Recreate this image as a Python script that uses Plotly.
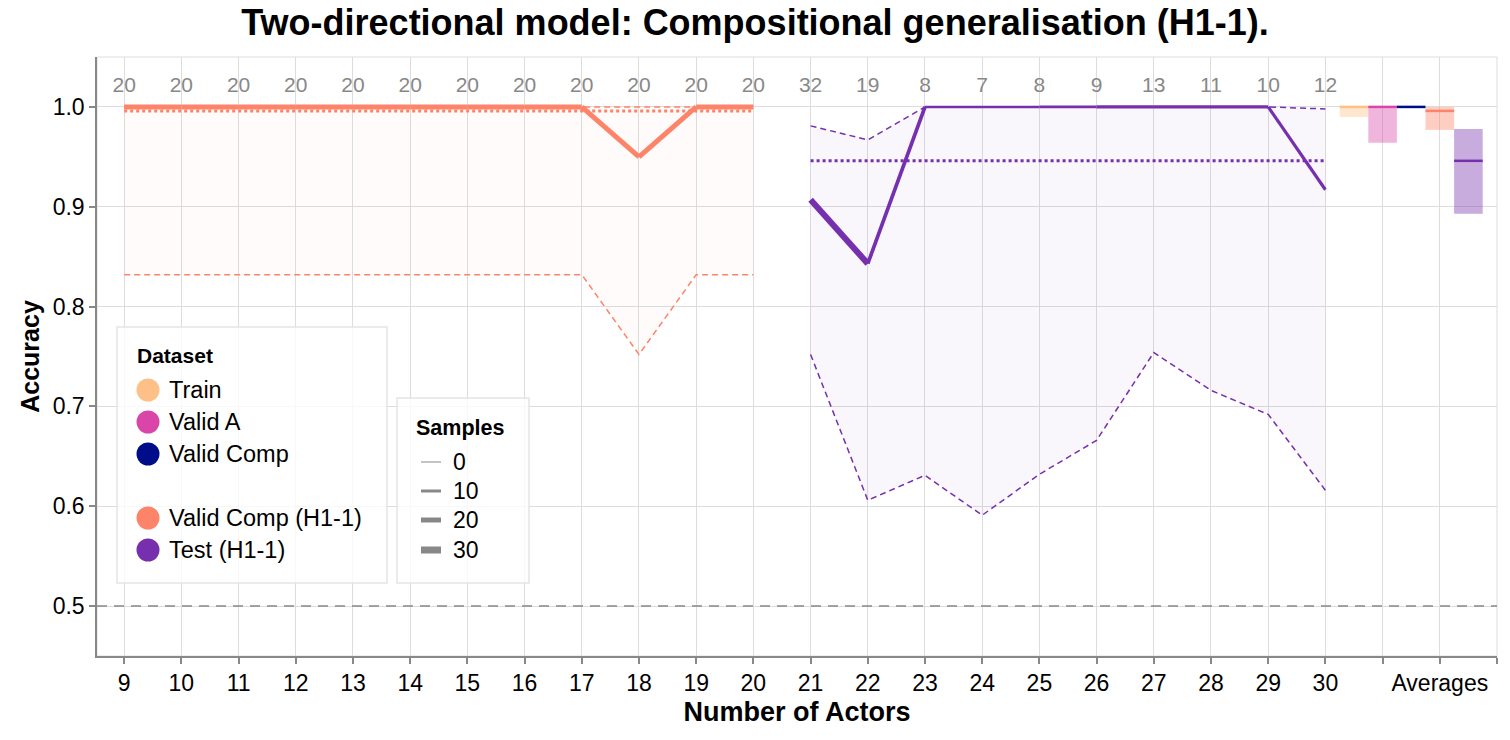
import plotly.graph_objects as go

# ---------------- data ----------------
actors = list(range(9, 31))
extra_ticks = ["", "Averages", ""]

vc_actors = [9, 10, 11, 12, 13, 14, 15, 16, 17, 18, 19, 20]
vc_acc = [1.0, 1.0, 1.0, 1.0, 1.0, 1.0, 1.0, 1.0, 1.0, 0.95, 1.0, 1.0]
vc_upper = [1.0, 1.0, 1.0, 1.0, 1.0, 1.0, 1.0, 1.0, 1.0, 1.0, 1.0, 1.0]
vc_lower = [0.832, 0.832, 0.832, 0.832, 0.832, 0.832, 0.832, 0.832, 0.832, 0.752, 0.832, 0.832]
vc_samples = [20, 20, 20, 20, 20, 20, 20, 20, 20, 20, 20, 20]
vc_mean = 0.996

test_actors = [21, 22, 23, 24, 25, 26, 27, 28, 29, 30]
test_acc = [0.907, 0.843, 1.0, 1.0, 1.0, 1.0, 1.0, 1.0, 1.0, 0.917]
test_upper = [0.981, 0.967, 1.0, 1.0, 1.0, 1.0, 1.0, 1.0, 1.0, 0.998]
test_lower = [0.752, 0.606, 0.631, 0.591, 0.632, 0.666, 0.754, 0.716, 0.692, 0.616]
test_samples = [32, 19, 8, 7, 8, 9, 13, 11, 10, 12]
test_mean = 0.946

avg_datasets = ["Train", "Valid A", "Valid Comp", "Valid Comp (H1-1)", "Test (H1-1)"]
avg_mean = [1.0, 1.0, 1.0, 0.996, 0.946]
avg_low = [0.990, 0.964, 1.0, 0.977, 0.893]
avg_high = [1.0, 1.0, 1.0, 1.0, 0.978]

legend_samples = [0, 10, 20, 30]

colors = {
    "Train": "#fdc087",
    "Valid A": "#d946a8",
    "Valid Comp": "#000d8a",
    "Valid Comp (H1-1)": "#fd8468",
    "Test (H1-1)": "#762fad",
}

# ---------------- helpers ----------------
FONT = "Liberation Sans, Arial, Helvetica, sans-serif"
L, R, T, B = 97, 13, 57, 84
W, H = 1510, 740
PW, PH = W - L - R, H - T - B


def pxx(x):
    return (x - L) / PW


def pxy(y):
    return 1 - (y - T) / PH


def idx(a):
    return a - actors[0]


def width_for(s):
    return 1 + 0.2 * s


def rgba(hexc, a):
    h = hexc.lstrip("#")
    r, g, b = int(h[0:2], 16), int(h[2:4], 16), int(h[4:6], 16)
    return f"rgba({r},{g},{b},{a})"


fig = go.Figure()


def add_series(xs, acc, up, lo, samples, mean, color, name, band_alpha):
    xi = [idx(a) for a in xs]
    # CI band
    fig.add_trace(go.Scatter(x=xi, y=up, mode="lines", line=dict(color=color, width=1.5, dash="6px,4px"),
                             showlegend=False, hoverinfo="skip"))
    fig.add_trace(go.Scatter(x=xi, y=lo, mode="lines", line=dict(color=color, width=1.5, dash="6px,4px"),
                             fill="tonexty", fillcolor=rgba(color, band_alpha), showlegend=False, hoverinfo="skip"))
    # mean (dotted)
    fig.add_trace(go.Scatter(x=[xi[0], xi[-1]], y=[mean, mean], mode="lines",
                             line=dict(color=color, width=3, dash="dot"), showlegend=False, hoverinfo="skip"))
    # trail: segments with widths from samples
    for i in range(len(xi) - 1):
        fig.add_trace(go.Scatter(x=[xi[i], xi[i + 1]], y=[acc[i], acc[i + 1]], mode="lines",
                                 line=dict(color=color, width=width_for((samples[i] + samples[i + 1]) / 2)),
                                 showlegend=False, name=name, hoverinfo="skip"))
    # sample counts
    fig.add_trace(go.Scatter(x=xi, y=[1.02] * len(xi), mode="text", text=[str(s) for s in samples],
                             textfont=dict(family=FONT, size=21, color="#888888"),
                             showlegend=False, hoverinfo="skip"))


add_series(vc_actors, vc_acc, vc_upper, vc_lower, vc_samples, vc_mean, colors["Valid Comp (H1-1)"],
           "Valid Comp (H1-1)", 0.035)
add_series(test_actors, test_acc, test_upper, test_lower, test_samples, test_mean, colors["Test (H1-1)"],
           "Test (H1-1)", 0.04)

# averages
n_act = len(actors)
for i, d in enumerate(avg_datasets):
    xc = (n_act - 0.5) + 0.5 * i
    c = colors[d]
    fig.add_trace(go.Bar(x=[xc], y=[avg_high[i] - avg_low[i]], base=[avg_low[i]], width=0.5,
                         marker=dict(color=rgba(c, 0.4), line=dict(width=0)), showlegend=False, hoverinfo="skip"))
    fig.add_trace(go.Scatter(x=[xc - 0.25, xc + 0.25], y=[avg_mean[i], avg_mean[i]], mode="lines",
                             line=dict(color=c, width=2.5), showlegend=False, hoverinfo="skip"))

# ---------------- shapes / annotations ----------------
shapes = []
annotations = []

shapes.append(dict(type="rect", xref="paper", yref="paper", x0=0, x1=1, y0=0, y1=1,
                   line=dict(color="#dddddd", width=1), layer="below"))
shapes.append(dict(type="line", xref="paper", yref="y", x0=0, x1=1, y0=0.5, y1=0.5,
                   line=dict(color="#888888", width=1.5, dash="10px,7px"), layer="above"))

# Dataset legend box
shapes.append(dict(type="rect", xref="paper", yref="paper", x0=pxx(117), x1=pxx(387), y0=pxy(583), y1=pxy(327),
                   fillcolor="rgba(255,255,255,0.8)", line=dict(color="rgba(225,225,225,0.9)", width=1.5),
                   layer="above"))
annotations.append(dict(xref="paper", yref="paper", x=pxx(135), y=pxy(355), text="<b>Dataset</b>",
                        showarrow=False, xanchor="left", yanchor="middle",
                        font=dict(family=FONT, size=21, color="black")))
leg_y = [390, 422, 454, 518, 550]
for d, yy in zip(avg_datasets, leg_y):
    shapes.append(dict(type="circle", xref="paper", yref="paper", xsizemode="pixel", ysizemode="pixel",
                       xanchor=pxx(148), yanchor=pxy(yy), x0=-11.5, x1=11.5, y0=-11.5, y1=11.5,
                       fillcolor=colors[d], line=dict(width=0), layer="above"))
    annotations.append(dict(xref="paper", yref="paper", x=pxx(167), y=pxy(yy), text=d, showarrow=False,
                            xanchor="left", yanchor="middle", font=dict(family=FONT, size=23.5, color="black")))

# Samples legend box
shapes.append(dict(type="rect", xref="paper", yref="paper", x0=pxx(397), x1=pxx(529), y0=pxy(583), y1=pxy(398),
                   fillcolor="rgba(255,255,255,0.8)", line=dict(color="rgba(225,225,225,0.9)", width=1.5),
                   layer="above"))
annotations.append(dict(xref="paper", yref="paper", x=pxx(414), y=pxy(428), text="<b>Samples</b>",
                        showarrow=False, xanchor="left", yanchor="middle",
                        font=dict(family=FONT, size=21.5, color="black")))
samp_y = [462, 491, 520, 550]
for s, yy in zip(legend_samples, samp_y):
    shapes.append(dict(type="line", xref="paper", yref="paper", x0=pxx(421), x1=pxx(441), y0=pxy(yy), y1=pxy(yy),
                       line=dict(color="#888888", width=width_for(s)), layer="above"))
    annotations.append(dict(xref="paper", yref="paper", x=pxx(451), y=pxy(yy), text=str(s), showarrow=False,
                            xanchor="left", yanchor="middle", font=dict(family=FONT, size=23, color="black")))

tickvals = list(range(n_act + len(extra_ticks)))
ticktext = [str(a) for a in actors] + extra_ticks

fig.update_layout(
    width=W, height=H,
    margin=dict(l=L, r=R, t=T, b=B),
    paper_bgcolor="white", plot_bgcolor="white",
    title=dict(text="<b>Two-directional model: Compositional generalisation (H1-1).</b>",
               x=0.5, xanchor="center", xref="container", y=1 - 22 / H, yanchor="middle",
               font=dict(family=FONT, size=36, color="black")),
    font=dict(family=FONT, size=23, color="black"),
    shapes=shapes, annotations=annotations,
    showlegend=False, barmode="overlay",
    xaxis=dict(range=[-0.475, n_act + 2], tickmode="array", tickvals=tickvals, ticktext=ticktext,
               showgrid=True, gridcolor="#dddddd", gridwidth=1, zeroline=False,
               showline=True, linecolor="#888888", linewidth=1.5,
               ticks="outside", ticklen=6, tickcolor="#888888", tickwidth=1.5,
               tickfont=dict(family=FONT, size=23, color="black"),
               title=dict(text="<b>Number of Actors</b>", font=dict(family=FONT, size=27, color="black"), standoff=7)),
    yaxis=dict(range=[0.45, 1.05], tickmode="array", tickvals=[0.5, 0.6, 0.7, 0.8, 0.9, 1.0],
               ticktext=["0.5", "0.6", "0.7", "0.8", "0.9", "1.0"],
               showgrid=True, gridcolor="#dddddd", gridwidth=1, zeroline=False,
               showline=True, linecolor="#888888", linewidth=1.5,
               ticks="outside", ticklen=6, tickcolor="#888888", tickwidth=1.5,
               tickfont=dict(family=FONT, size=23, color="black"),
               title=dict(text="<b>Accuracy</b>", font=dict(family=FONT, size=25, color="black"), standoff=6)),
)

fig.write_html("out.html", config={"displayModeBar": False},
               post_script="document.body.style.margin='0';document.body.style.overflow='hidden';")
